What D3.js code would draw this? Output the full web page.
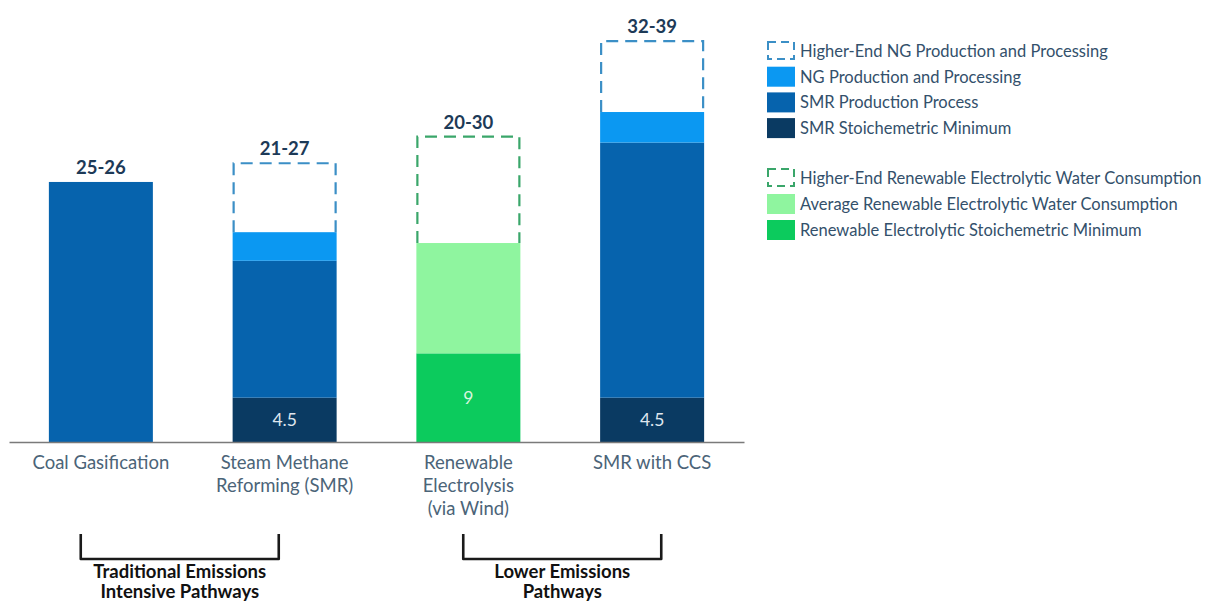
<!DOCTYPE html>
<html>
<head>
<meta charset="utf-8">
<script src="https://cdn.jsdelivr.net/npm/d3@7"></script>
<style>
  body { margin: 0; background: #fff; }
  svg { font-family: Lato, "Open Sans", sans-serif; }
</style>
</head>
<body>
<svg id="chart" width="1206" height="604"></svg>
<script>
// categories and their wrapped labels
const categories = ["coal", "smr", "wind", "ccs"];
const categoryLines = [
  ["Coal Gasification"],
  ["Steam Methane", "Reforming (SMR)"],
  ["Renewable", "Electrolysis", "(via Wind)"],
  ["SMR with CCS"]
];
const rangeLabels = ["25-26", "21-27", "20-30", "32-39"];

// series values (stacked from bottom)
const smrStoich      = [0, 4.5, 0, 4.5];
const smrProcess     = [26.4, 13.9, 0, 25.9];
const ngProcessing   = [0, 2.9, 0, 3.1];
const ngHigherEnd    = [0, 7.0, 0, 7.2];
const renewStoich    = [0, 0, 9, 0];
const renewAverage   = [0, 0, 11.2, 0];
const renewHigherEnd = [0, 0, 10.8, 0];

const segmentLabels = [null, "4.5", "9", "4.5"];

const groups = [
  { lines: ["Traditional Emissions", "Intensive Pathways"], from: 0, to: 1 },
  { lines: ["Lower Emissions", "Pathways"], from: 2, to: 3 }
];

const legendBlue = [
  "Higher-End NG Production and Processing",
  "NG Production and Processing",
  "SMR Production Process",
  "SMR Stoichemetric Minimum"
];
const legendGreen = [
  "Higher-End Renewable Electrolytic Water Consumption",
  "Average Renewable Electrolytic Water Consumption",
  "Renewable Electrolytic Stoichemetric Minimum"
];

const colors = {
  smrStoich: "#0a3a62",
  smrProcess: "#0663ad",
  ngProcessing: "#0b98f2",
  ngHigherEnd: "#3b8fc6",
  renewStoich: "#0ccb5d",
  renewAverage: "#8ff59f",
  renewHigherEnd: "#3aa66a"
};

const keys = ["smrStoich", "renewStoich", "smrProcess", "renewAverage", "ngProcessing", "ngHigherEnd", "renewHigherEnd"];
const table = categories.map((c, i) => ({
  cat: c,
  smrStoich: smrStoich[i],
  renewStoich: renewStoich[i],
  smrProcess: smrProcess[i],
  renewAverage: renewAverage[i],
  ngProcessing: ngProcessing[i],
  ngHigherEnd: ngHigherEnd[i],
  renewHigherEnd: renewHigherEnd[i]
}));

const svg = d3.select("#chart");
const baseY = 442;

const x = d3.scaleBand()
  .domain(categories)
  .range([9, 744])
  .paddingInner(0.434)
  .paddingOuter(0.217);

const y = d3.scaleLinear()
  .domain([0, 40])
  .range([baseY, 48]);

const series = d3.stack().keys(keys)(table);
const dashed = new Set(["ngHigherEnd", "renewHigherEnd"]);

// solid segments
series.filter(s => !dashed.has(s.key)).forEach(s => {
  svg.append("g").selectAll("rect")
    .data(s.filter(d => d[1] > d[0]))
    .join("rect")
    .attr("x", d => x(d.data.cat))
    .attr("width", x.bandwidth())
    .attr("y", d => y(d[1]))
    .attr("height", d => y(d[0]) - y(d[1]))
    .attr("fill", colors[s.key]);
});

// dashed "higher-end" outlines (open at the bottom)
series.filter(s => dashed.has(s.key)).forEach(s => {
  svg.append("g").selectAll("path")
    .data(s.filter(d => d[1] > d[0]))
    .join("path")
    .attr("d", d => {
      const x0 = x(d.data.cat) + 1, x1 = x(d.data.cat) + x.bandwidth() - 1;
      return `M${x0},${y(d[0])}V${y(d[1])}H${x1}V${y(d[0])}`;
    })
    .attr("fill", "none")
    .attr("stroke", colors[s.key])
    .attr("stroke-width", 2.2)
    .attr("stroke-dasharray", "12,7");
});

// axis line
svg.append("g")
  .attr("transform", `translate(0,${baseY})`)
  .call(d3.axisBottom(x).tickSize(0).tickFormat(""))
  .call(g => g.select(".domain").attr("stroke", "#7a7a7a").attr("stroke-width", 1.5));

// range labels above bars
svg.append("g").selectAll("text")
  .data(table)
  .join("text")
  .attr("x", d => x(d.cat) + x.bandwidth() / 2)
  .attr("y", d => y(d3.sum(keys, k => d[k])) - 8)
  .attr("text-anchor", "middle")
  .attr("font-size", 18.5)
  .attr("font-weight", 700)
  .attr("fill", "#1d3a57")
  .text((d, i) => rangeLabels[i]);

// stoichiometric minimum labels
svg.append("g").selectAll("text")
  .data(table.filter((d, i) => segmentLabels[i]))
  .join("text")
  .attr("x", d => x(d.cat) + x.bandwidth() / 2)
  .attr("y", d => y((d.smrStoich + d.renewStoich) / 2) + 6)
  .attr("text-anchor", "middle")
  .attr("font-size", 17.5)
  .attr("fill", d => d.renewStoich ? "#d8f5df" : "#dfe6ee")
  .text(d => segmentLabels[categories.indexOf(d.cat)]);

// category labels
categories.forEach((c, i) => {
  const t = svg.append("text")
    .attr("x", x(c) + x.bandwidth() / 2)
    .attr("y", baseY + 27)
    .attr("text-anchor", "middle")
    .attr("font-size", 18.5)
    .attr("fill", "#4b6478");
  categoryLines[i].forEach((line, j) => {
    t.append("tspan")
      .attr("x", x(c) + x.bandwidth() / 2)
      .attr("dy", j === 0 ? 0 : 23)
      .text(line);
  });
});

// group brackets
const bracketShift = [-13, 2];
groups.forEach((g, i) => {
  const mid = (x(categories[g.from]) + x(categories[g.to]) + x.bandwidth()) / 2 + bracketShift[i];
  const half = 99;
  svg.append("path")
    .attr("d", `M${mid - half},534V559H${mid + half}V534`)
    .attr("fill", "none")
    .attr("stroke", "#1a1a1a")
    .attr("stroke-width", 2.6)
    .attr("stroke-linejoin", "round");
  const t = svg.append("text")
    .attr("x", mid)
    .attr("y", 578)
    .attr("text-anchor", "middle")
    .attr("font-size", 18.5)
    .attr("font-weight", 700)
    .attr("fill", "#111");
  g.lines.forEach((line, j) => {
    t.append("tspan").attr("x", mid).attr("dy", j === 0 ? 0 : 20).text(line);
  });
});

// legend
const legend = svg.append("g").attr("transform", "translate(767,41)");
const legendRows = [
  ...legendBlue.map((label, i) => ({ label, key: ["ngHigherEnd", "ngProcessing", "smrProcess", "smrStoich"][i], y: i * 25.7 })),
  ...legendGreen.map((label, i) => ({ label, key: ["renewHigherEnd", "renewAverage", "renewStoich"][i], y: 127 + i * 26 }))
];
legendRows.forEach(r => {
  const row = legend.append("g").attr("transform", `translate(0,${r.y})`);
  if (dashed.has(r.key)) {
    row.append("rect")
      .attr("x", 1).attr("y", 1).attr("width", 26).attr("height", 17)
      .attr("fill", "none")
      .attr("stroke", colors[r.key])
      .attr("stroke-width", 2)
      .attr("stroke-dasharray", "8,5");
  } else {
    row.append("rect")
      .attr("width", 28).attr("height", 20)
      .attr("fill", colors[r.key]);
  }
  row.append("text")
    .attr("x", 33)
    .attr("y", 16)
    .attr("font-size", 16.5)
    .attr("fill", "#33506b")
    .text(r.label);
});
</script>
</body>
</html>
